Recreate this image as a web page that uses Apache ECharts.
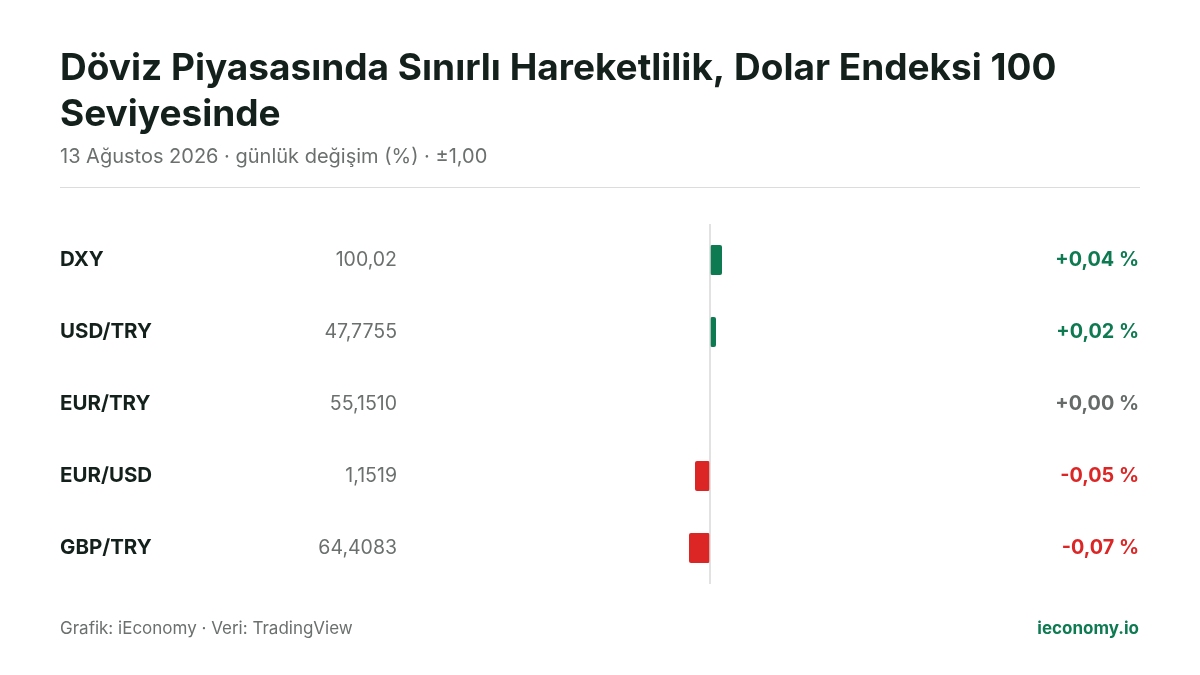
<!DOCTYPE html>
<html><head><meta charset="utf-8">
<script src="https://cdn.jsdelivr.net/npm/echarts@6/dist/echarts.min.js"></script>
<style>html,body{margin:0;background:#fff}#c{width:1200px;height:675px}</style>
</head><body><div id="c"></div>
<script>
const categories = ['DXY','USD/TRY','EUR/TRY','EUR/USD','GBP/TRY'];
const prices = ['100,02','47,7755','55,1510','1,1519','64,4083'];
const changes = [0.04, 0.02, 0.00, -0.05, -0.07];
const GREEN = '#0e7a52', RED = '#dc2626', GREY = '#666b6a';
const fmt = v => (v >= 0 ? '+' : '-') + Math.abs(v).toFixed(2).replace('.', ',') + ' %';
const col = v => v > 0 ? GREEN : (v < 0 ? RED : GREY);
const F = 'Inter, "Noto Sans", sans-serif';
const chart = echarts.init(document.getElementById('c'));
chart.setOption({
  backgroundColor:'#fff',
  animation:false,
  textStyle:{fontFamily:F},
  graphic:[
    {type:'text', left:60, top:46, style:{text:'Döviz Piyasasında Sınırlı Hareketlilik, Dolar Endeksi 100\nSeviyesinde', font:'bold 37px '+F, fill:'#13201c', lineHeight:46}},
    {type:'text', left:60, top:147, style:{text:'13 Ağustos 2026 · günlük değişim (%) · ±1,00', font:'20px '+F, fill:'#6b706f'}},
    {type:'line', shape:{x1:60,y1:187.5,x2:1140,y2:187.5}, style:{stroke:'#dcdcdc',lineWidth:1}},
    {type:'text', left:60, top:620, style:{text:'Grafik: iEconomy · Veri: TradingView', font:'17px '+F, fill:'#6b706f'}},
    {type:'text', right:61, top:620, style:{text:'ieconomy.io', font:'bold 17px '+F, fill:GREEN}}
  ],
  grid:{left:410, right:190, top:224, bottom:91},
  xAxis:{type:'value', min:-1, max:1, show:false},
  yAxis:[{
    type:'category', data:categories, inverse:true,
    axisLine:{show:false}, axisTick:{show:false},
    axisLabel:{margin:13, formatter:(v,i)=>'{n|'+v+'}{v|'+prices[i]+'}',
      rich:{n:{width:237, align:'left', fontSize:20.5, fontWeight:'bold', color:'#13201c', fontFamily:F},
            v:{width:100, align:'right', fontSize:19.5, color:'#6b706f', fontFamily:F}}}
  },{
    type:'category', data:categories, inverse:true, position:'right',
    axisLine:{show:false}, axisTick:{show:false},
    axisLabel:{margin:129, align:'right', formatter:(v,i)=>'{a'+i+'|'+fmt(changes[i])+'}',
      rich:Object.fromEntries(changes.map((c,i)=>['a'+i,{fontSize:19.8,fontWeight:'bold',color:col(c),fontFamily:F}]))}
  }],
  series:[{
    type:'bar', barWidth:30,
    data:changes.map(c=>({value:c, itemStyle:{color:col(c), borderRadius:2}})),
    markLine:{silent:true, symbol:'none', label:{show:false},
      lineStyle:{color:'#d9d9d9', type:'solid', width:1.5}, data:[{xAxis:0}]}
  }]
});
</script></body></html>
